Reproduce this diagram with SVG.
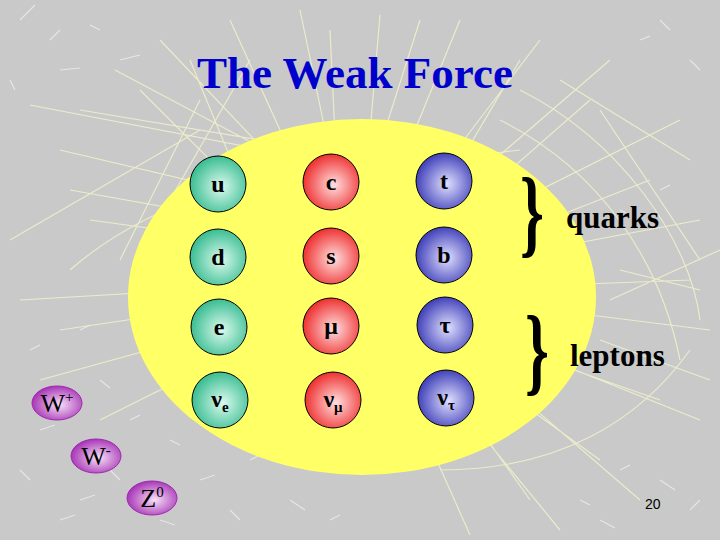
<svg xmlns="http://www.w3.org/2000/svg" width="720" height="540" viewBox="0 0 720 540">
<defs>
<radialGradient id="gG" cx="55%" cy="55%" r="60%"><stop offset="0" stop-color="#dcfaee"/><stop offset="1" stop-color="#2cb88a"/></radialGradient>
<radialGradient id="gR" cx="55%" cy="55%" r="60%"><stop offset="0" stop-color="#ffe0e0"/><stop offset="1" stop-color="#ee2222"/></radialGradient>
<radialGradient id="gB" cx="55%" cy="55%" r="60%"><stop offset="0" stop-color="#e0e0ff"/><stop offset="1" stop-color="#3434b4"/></radialGradient>
<radialGradient id="gP" cx="55%" cy="55%" r="60%"><stop offset="0" stop-color="#f8e0f8"/><stop offset="1" stop-color="#a028b0"/></radialGradient>
<style>
.p{stroke:#000;stroke-width:1}
.g{fill:url(#gG)} .r{fill:url(#gR)} .b{fill:url(#gB)} .v{fill:url(#gP);stroke:#a028b0;stroke-width:1}
.t{font-family:"Liberation Serif",serif;font-weight:bold;font-size:24px;fill:#000;text-anchor:middle}
.s{font-size:15px}
.w{font-family:"Liberation Serif",serif;font-size:26px;fill:#000;text-anchor:middle}
.lab{font-family:"Liberation Serif",serif;font-weight:bold;font-size:31px;fill:#000}
.br{font-family:"Liberation Serif",serif;font-weight:bold;font-size:98px;fill:#000}
.tr{stroke:#f4f4cc;stroke-width:1.2;opacity:0.8;fill:none}
.dt{stroke:#eeeeee;stroke-width:1.2;opacity:0.8}
</style>
</defs>
<rect width="720" height="540" fill="#c9c9c9"/>
<g id="tracks">
<path class="tr" d="M30 105 L420 180 M60 150 L400 230 M90 220 L380 260 M20 300 L360 280 M40 380 L330 300 M115 70 L360 200 M160 40 L340 230 M230 20 L330 240 M300 10 L350 250 M380 15 L360 250 M460 20 L370 240 M540 40 L380 250 M610 60 L390 250 M680 120 L400 260 M700 220 L380 280 M710 330 L390 290 M700 420 L400 300 M640 500 L420 310 M560 530 L380 310 M470 535 L370 310 M70 270 C150 200 260 170 400 160 M150 330 C220 230 340 170 520 150 M500 120 C600 170 660 260 680 360 M520 90 C620 140 690 240 700 320 M440 470 C560 470 640 420 690 350 M600 110 L700 260 M560 80 L690 160 M10 240 L200 130 M200 100 L120 260 M250 60 L170 200 M620 270 L700 290 M600 340 L710 380 M610 300 L720 250 M80 110 L380 160 M140 90 L300 250 M190 60 L260 230 M520 60 L420 230 M590 100 L430 240 M650 180 L420 270 M690 280 L430 290 M660 400 L430 320 M600 460 L420 330 M530 500 L410 330 M100 420 L300 320 M60 330 L330 290 M330 30 L340 240 M420 20 L350 240 M70 190 L350 240"/>
<path class="dt" d="M20 20 L35 5 M50 40 L60 30 M90 25 L100 30 M120 60 L140 55 M60 70 L80 68 M10 80 L15 90 M40 430 L55 425 M20 470 L30 480 M80 500 L95 495 M110 470 L120 480 M60 520 L75 515 M130 420 L140 415 M170 440 L180 445 M200 480 L215 475 M230 510 L240 520 M160 520 L175 525 M250 460 L260 455 M290 500 L305 510 M330 520 L340 515 M580 500 L590 505 M620 470 L630 465 M660 480 L675 490 M690 510 L700 500 M600 520 L615 528 M660 20 L670 30 M640 40 L650 36 M690 60 L700 70 M620 210 L630 215 M660 190 L670 185 M80 330 L90 325 M30 350 L40 345 M100 380 L110 388"/>
</g>
<ellipse id="field" cx="362" cy="297" rx="234" ry="178" fill="#ffff66"/>
<text x="355" y="88" font-family="Liberation Serif,serif" font-weight="bold" font-size="45" fill="#0000cc" text-anchor="middle">The Weak Force</text>
<g id="n-u"><circle class="p g" cx="218" cy="184" r="28"/><text class="t" x="218" y="192">u</text></g>
<g id="n-c"><circle class="p r" cx="331" cy="182" r="28"/><text class="t" x="331" y="190">c</text></g>
<g id="n-t"><circle class="p b" cx="444" cy="181" r="28"/><text class="t" x="444" y="189">t</text></g>
<g id="n-d"><circle class="p g" cx="218" cy="257" r="28"/><text class="t" x="218" y="265">d</text></g>
<g id="n-s"><circle class="p r" cx="331" cy="256" r="28"/><text class="t" x="331" y="264">s</text></g>
<g id="n-b"><circle class="p b" cx="444" cy="255" r="28"/><text class="t" x="444" y="263">b</text></g>
<g id="n-e"><circle class="p g" cx="219" cy="327" r="28"/><text class="t" x="219" y="335">e</text></g>
<g id="n-mu"><circle class="p r" cx="331" cy="326" r="28"/><text class="t" x="331" y="334">μ</text></g>
<g id="n-tau"><circle class="p b" cx="445" cy="325" r="28"/><text class="t" x="445" y="333">τ</text></g>
<g id="n-nue"><circle class="p g" cx="220" cy="400" r="28"/><text class="t" x="220" y="407">ν<tspan class="s" dy="5">e</tspan></text></g>
<g id="n-numu"><circle class="p r" cx="333" cy="400" r="28"/><text class="t" x="333" y="407">ν<tspan class="s" dy="5">μ</tspan></text></g>
<g id="n-nutau"><circle class="p b" cx="446" cy="398" r="28"/><text class="t" x="446" y="405">ν<tspan class="s" dy="5">τ</tspan></text></g>
<g id="n-wplus"><ellipse class="v" cx="57" cy="403" rx="25" ry="17"/><text class="w" x="57" y="412">W<tspan font-size="15" dy="-10">+</tspan></text></g>
<g id="n-wminus"><ellipse class="v" cx="96" cy="456" rx="25" ry="17"/><text class="w" x="96" y="465">W<tspan font-size="15" dy="-10">-</tspan></text></g>
<g id="n-z0"><ellipse class="v" cx="152" cy="498" rx="25" ry="17"/><text class="w" x="152" y="507">Z<tspan font-size="15" dy="-10">0</tspan></text></g>
<g id="quarks"><text class="br" transform="translate(520 245) scale(0.62 1)">}</text><text class="lab" x="566" y="228">quarks</text></g>
<g id="leptons"><text class="br" transform="translate(525 383) scale(0.62 1)">}</text><text class="lab" x="570" y="366">leptons</text></g>
<text x="645" y="509" font-family="Liberation Sans,sans-serif" font-size="14" fill="#000">20</text>
</svg>
